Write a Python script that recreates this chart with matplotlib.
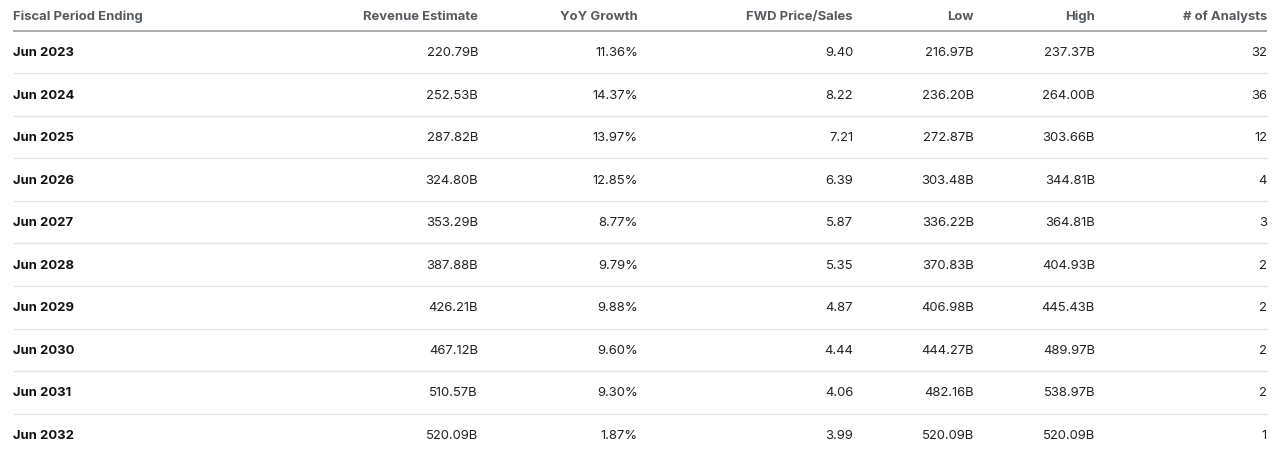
import matplotlib
matplotlib.use("Agg")
import matplotlib.pyplot as plt

columns = ["Fiscal Period Ending", "Revenue Estimate", "YoY Growth", "FWD Price/Sales", "Low", "High", "# of Analysts"]
periods = ["Jun 2023", "Jun 2024", "Jun 2025", "Jun 2026", "Jun 2027", "Jun 2028", "Jun 2029", "Jun 2030", "Jun 2031", "Jun 2032"]
revenue = ["220.79B", "252.53B", "287.82B", "324.80B", "353.29B", "387.88B", "426.21B", "467.12B", "510.57B", "520.09B"]
yoy = ["11.36%", "14.37%", "13.97%", "12.85%", "8.77%", "9.79%", "9.88%", "9.60%", "9.30%", "1.87%"]
fwd_ps = ["9.40", "8.22", "7.21", "6.39", "5.87", "5.35", "4.87", "4.44", "4.06", "3.99"]
low = ["216.97B", "236.20B", "272.87B", "303.48B", "336.22B", "370.83B", "406.98B", "444.27B", "482.16B", "520.09B"]
high = ["237.37B", "264.00B", "303.66B", "344.81B", "364.81B", "404.93B", "445.43B", "489.97B", "538.97B", "520.09B"]
analysts = ["32", "36", "12", "4", "3", "2", "2", "2", "2", "1"]

W, H = 1280, 454
fig = plt.figure(figsize=(W / 100, H / 100), dpi=100)
ax = fig.add_axes([0, 0, 1, 1])
ax.set_xlim(0, W)
ax.set_ylim(H, 0)
ax.axis("off")

plt.rcParams["font.family"] = ["Inter", "DejaVu Sans"]
fs = 9.4

left_x = 13
right_edge = 1267
col_right = [None, 478, 638, 853, 974, 1095, 1267]

header_y = 17
ax.text(left_x, header_y, columns[0], ha="left", va="center", fontsize=fs, fontweight="bold", color="#555a5f")
for c in range(1, len(columns)):
    ax.text(col_right[c], header_y, columns[c], ha="right", va="center", fontsize=fs, fontweight="bold", color="#555a5f")
ax.hlines(31, left_x, right_edge, color="#a3a7ab", lw=1.3)

row_y0 = 53
row_h = 42.55
data_cols = [revenue, yoy, fwd_ps, low, high, analysts]
for i, p in enumerate(periods):
    y = row_y0 + i * row_h
    ax.text(left_x, y, p, ha="left", va="center", fontsize=fs, fontweight="bold", color="#111111")
    for c, col in enumerate(data_cols, start=1):
        ax.text(col_right[c], y, col[i], ha="right", va="center", fontsize=fs, color="#222222")
    if i < len(periods) - 1:
        ax.hlines(y - 1 + row_h / 2, left_x, right_edge, color="#e3e4e6", lw=1.0)

fig.savefig("out.png", dpi=100, facecolor="white")
